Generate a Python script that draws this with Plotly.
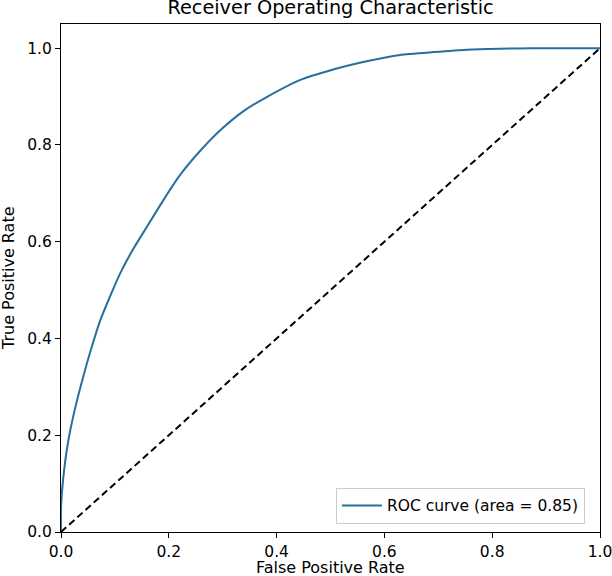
import plotly.graph_objects as go

# ROC curve points
fpr = [0.0, 0.0, 0.004, 0.013, 0.026, 0.041, 0.055, 0.072, 0.088, 0.11,
       0.134, 0.16, 0.19, 0.221, 0.26, 0.30, 0.34, 0.38, 0.443, 0.505,
       0.567, 0.629, 0.691, 0.753, 0.814, 0.876, 0.94, 1.0]
tpr = [0.0, 0.05, 0.11, 0.185, 0.255, 0.32, 0.375, 0.435, 0.479, 0.535,
       0.585, 0.632, 0.686, 0.738, 0.79, 0.835, 0.871, 0.898, 0.934, 0.956,
       0.973, 0.986, 0.992, 0.997, 0.999, 1.0, 1.0, 1.0]
roc_auc = 0.85

chance_x = [0.0, 1.0]
chance_y = [0.0, 1.0]

tick_vals = [0.0, 0.2, 0.4, 0.6, 0.8, 1.0]
tick_text = ["0.0", "0.2", "0.4", "0.6", "0.8", "1.0"]

font = "DejaVu Sans, sans-serif"
W, H = 612, 576

fig = go.Figure()

fig.add_trace(go.Scatter(
    x=fpr, y=tpr, mode="lines",
    line=dict(color="#26709c", width=2, shape="spline", smoothing=0.6),
    name=f"ROC curve (area = {roc_auc:.2f})",
))

fig.add_trace(go.Scatter(
    x=chance_x, y=chance_y, mode="lines",
    line=dict(color="black", width=2, dash="7px,4px"),
    showlegend=False,
))

axis_style = dict(
    showgrid=False, zeroline=False, automargin=False,
    showline=True, linecolor="black", linewidth=1, mirror=True,
    ticks="outside", ticklen=5, tickwidth=1, tickcolor="black",
    tickvals=tick_vals, ticktext=tick_text, ticklabeloverflow="allow",
    tickfont=dict(family=font, size=15.5, color="black"),
)

fig.update_xaxes(range=[0, 1.0], **axis_style)
fig.update_yaxes(range=[0, 1.05], **axis_style)

label_font = dict(family=font, size=16, color="black")
fig.add_annotation(text="False Positive Rate", xref="paper", yref="paper",
                   x=0.5, y=-(567 - 532) / (532 - 24), yanchor="middle",
                   showarrow=False, font=label_font)
fig.add_annotation(text="True Positive Rate", xref="paper", yref="paper",
                   x=-(61 - 8) / (600 - 61), y=0.5, xanchor="center",
                   textangle=-90, showarrow=False, font=label_font)

fig.update_layout(
    width=W, height=H,
    margin=dict(l=61, r=12, t=24, b=44),
    plot_bgcolor="white", paper_bgcolor="white",
    title=dict(text="Receiver Operating Characteristic",
               font=dict(family=font, size=19.3, color="black"),
               x=0.5, xref="paper", y=1 - 7 / H, yref="container",
               yanchor="middle"),
    legend=dict(x=0.972, y=0.016, xanchor="right", yanchor="bottom",
                bgcolor="rgba(255,255,255,0.8)", bordercolor="#cccccc",
                borderwidth=1, itemwidth=40,
                font=dict(family=font, size=15.5, color="black")),
)

# drop the default 8px page margin so the figure sits flush in the window
fig.write_html("out.html",
               config={"displayModeBar": False},
               post_script="document.body.style.margin='0';"
                           "document.body.style.overflow='hidden';")
